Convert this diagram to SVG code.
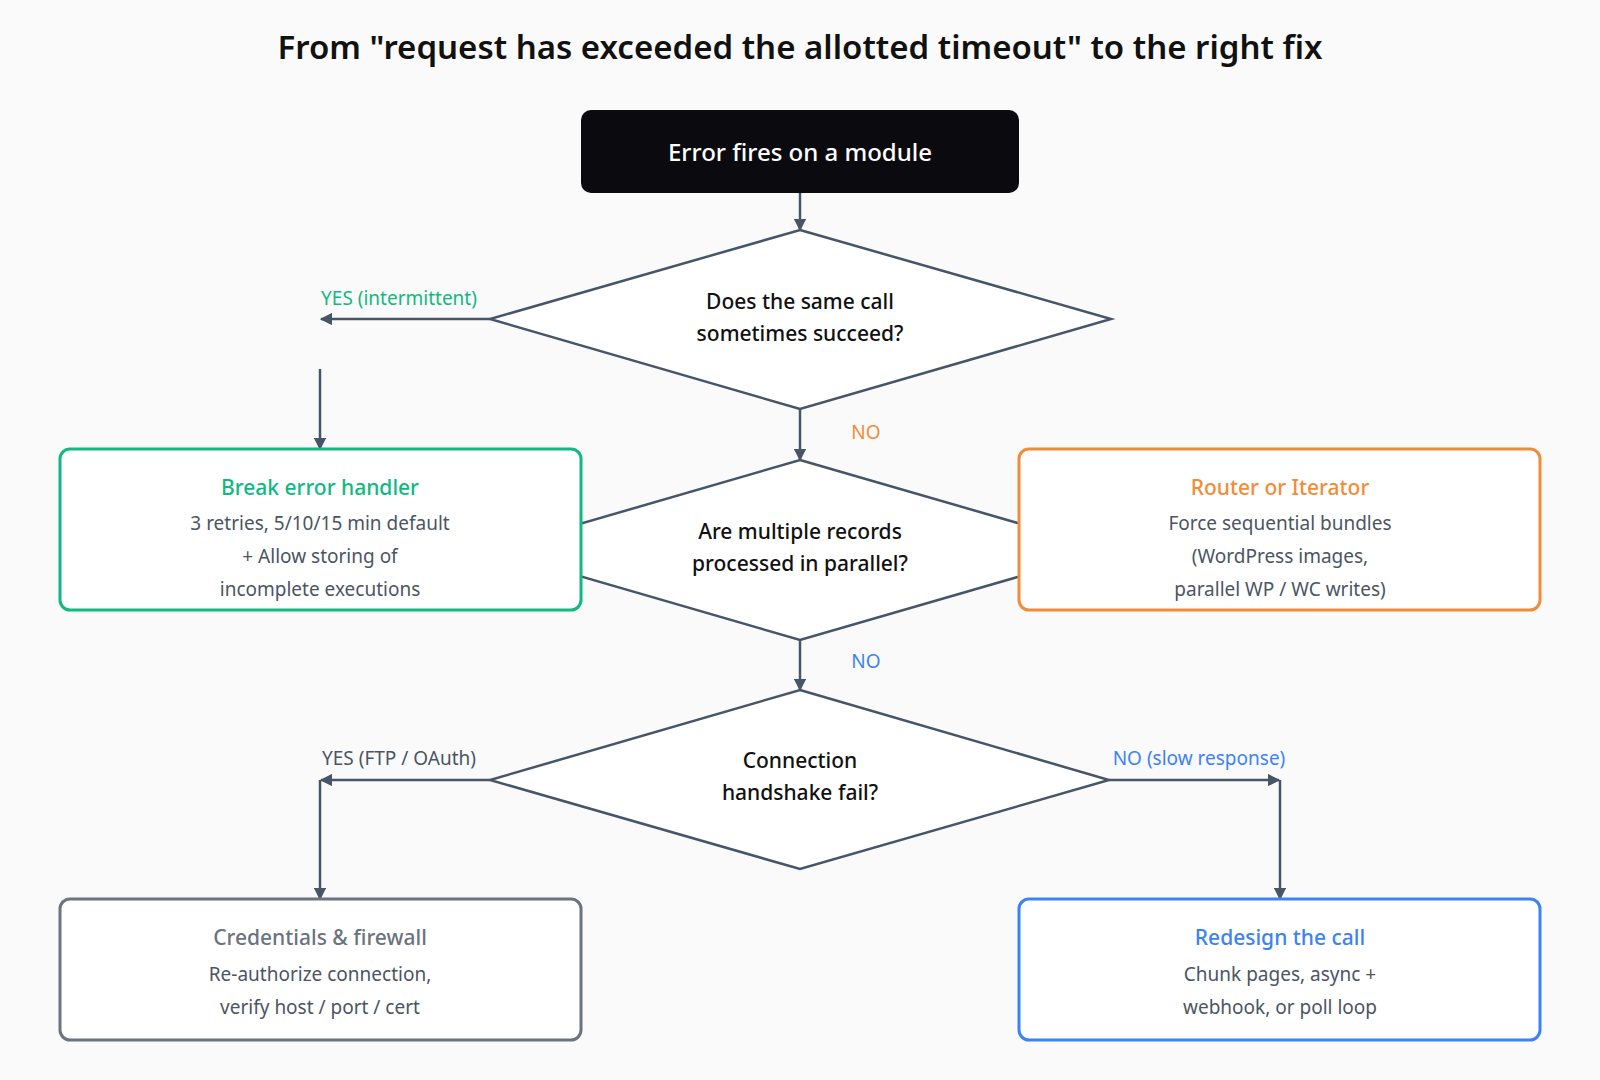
<svg xmlns="http://www.w3.org/2000/svg" width="1600" height="1080" viewBox="0 0 1600 1080">
<style>
text{font-family:"Noto Sans","Open Sans","Liberation Sans",sans-serif;text-anchor:middle}
.title{font-size:33px;font-weight:600;fill:#111}
.q{font-size:21px;font-weight:500;fill:#111}
.h{font-size:21px;font-weight:500}
.b{font-size:19px;fill:#4b5563}
.lbl{font-size:19px}
.dia{fill:#fff;stroke:#475569;stroke-width:2.5}
.box{fill:#fff;stroke-width:3}
.con line,.con polyline{stroke:#475569;stroke-width:2.5;fill:none;marker-end:url(#ah)}
</style>
<defs>
<marker id="ah" viewBox="0 0 10 10" refX="9" refY="5" markerWidth="5" markerHeight="5" orient="auto-start-reverse" markerUnits="strokeWidth">
<path d="M0,0L10,5L0,10z" fill="#475569"/>
</marker>
</defs>
<rect width="1600" height="1080" fill="#fafafa"/>
<text class="title" x="800" y="59">From "request has exceeded the allotted timeout" to the right fix</text>

<g class="con">
<line x1="800" y1="193" x2="800" y2="230"/>
<line x1="490" y1="319" x2="321" y2="319"/>
<line x1="320" y1="369" x2="320" y2="449"/>
<line x1="800" y1="409" x2="800" y2="460"/>
<line x1="800" y1="640" x2="800" y2="690"/>
<line x1="490" y1="780" x2="321" y2="780"/>
<line x1="320" y1="780" x2="320" y2="899"/>
<line x1="1109" y1="780" x2="1279" y2="780"/>
<line x1="1280" y1="780" x2="1280" y2="899"/>
</g>

<g id="start">
<rect x="581" y="110" width="438" height="83" rx="10" fill="#0b0b0f"/>
<text x="800" y="161" font-size="24" fill="#fff" style="font-weight:500">Error fires on a module</text>
</g>
<g id="d1">
<polygon class="dia" points="800,230 1111,319 800,409 490,319"/>
<text class="q" x="800" y="309">Does the same call</text>
<text class="q" x="800" y="341">sometimes succeed?</text>
</g>
<text class="lbl" x="399" y="305" fill="#10b981">YES (intermittent)</text>
<text class="lbl" x="866" y="439" fill="#f28c38">NO</text>
<g id="d2">
<polygon class="dia" points="800,460 1111,550 800,640 490,550"/>
<text class="q" x="800" y="539">Are multiple records</text>
<text class="q" x="800" y="571">processed in parallel?</text>
</g>
<text class="lbl" x="866" y="668" fill="#3b82f6">NO</text>
<g id="d3">
<polygon class="dia" points="800,690 1109,780 800,869 490,780"/>
<text class="q" x="800" y="768">Connection</text>
<text class="q" x="800" y="800">handshake fail?</text>
</g>
<text class="lbl" x="399" y="765" fill="#4b5563">YES (FTP / OAuth)</text>
<text class="lbl" x="1199" y="765" fill="#3b82f6">NO (slow response)</text>

<g id="green">
<rect class="box" x="60" y="449" width="521" height="161" rx="10" stroke="#10b981"/>
<text class="h" x="320" y="495" fill="#10b981">Break error handler</text>
<text class="b" x="320" y="530">3 retries, 5/10/15 min default</text>
<text class="b" x="320" y="563">+ Allow storing of</text>
<text class="b" x="320" y="596">incomplete executions</text>
</g>
<g id="orange">
<rect class="box" x="1019" y="449" width="521" height="161" rx="10" stroke="#f28c38"/>
<text class="h" x="1280" y="495" fill="#f28c38">Router or Iterator</text>
<text class="b" x="1280" y="530">Force sequential bundles</text>
<text class="b" x="1280" y="563">(WordPress images,</text>
<text class="b" x="1280" y="596">parallel WP / WC writes)</text>
</g>
<g id="gray">
<rect class="box" x="60" y="899" width="521" height="141" rx="10" stroke="#6b7280"/>
<text class="h" x="320" y="945" fill="#6b7280">Credentials &amp; firewall</text>
<text class="b" x="320" y="981">Re-authorize connection,</text>
<text class="b" x="320" y="1014">verify host / port / cert</text>
</g>
<g id="blue">
<rect class="box" x="1019" y="899" width="521" height="141" rx="10" stroke="#3b82f6"/>
<text class="h" x="1280" y="945" fill="#3b82f6">Redesign the call</text>
<text class="b" x="1280" y="981">Chunk pages, async +</text>
<text class="b" x="1280" y="1014">webhook, or poll loop</text>
</g>
</svg>
